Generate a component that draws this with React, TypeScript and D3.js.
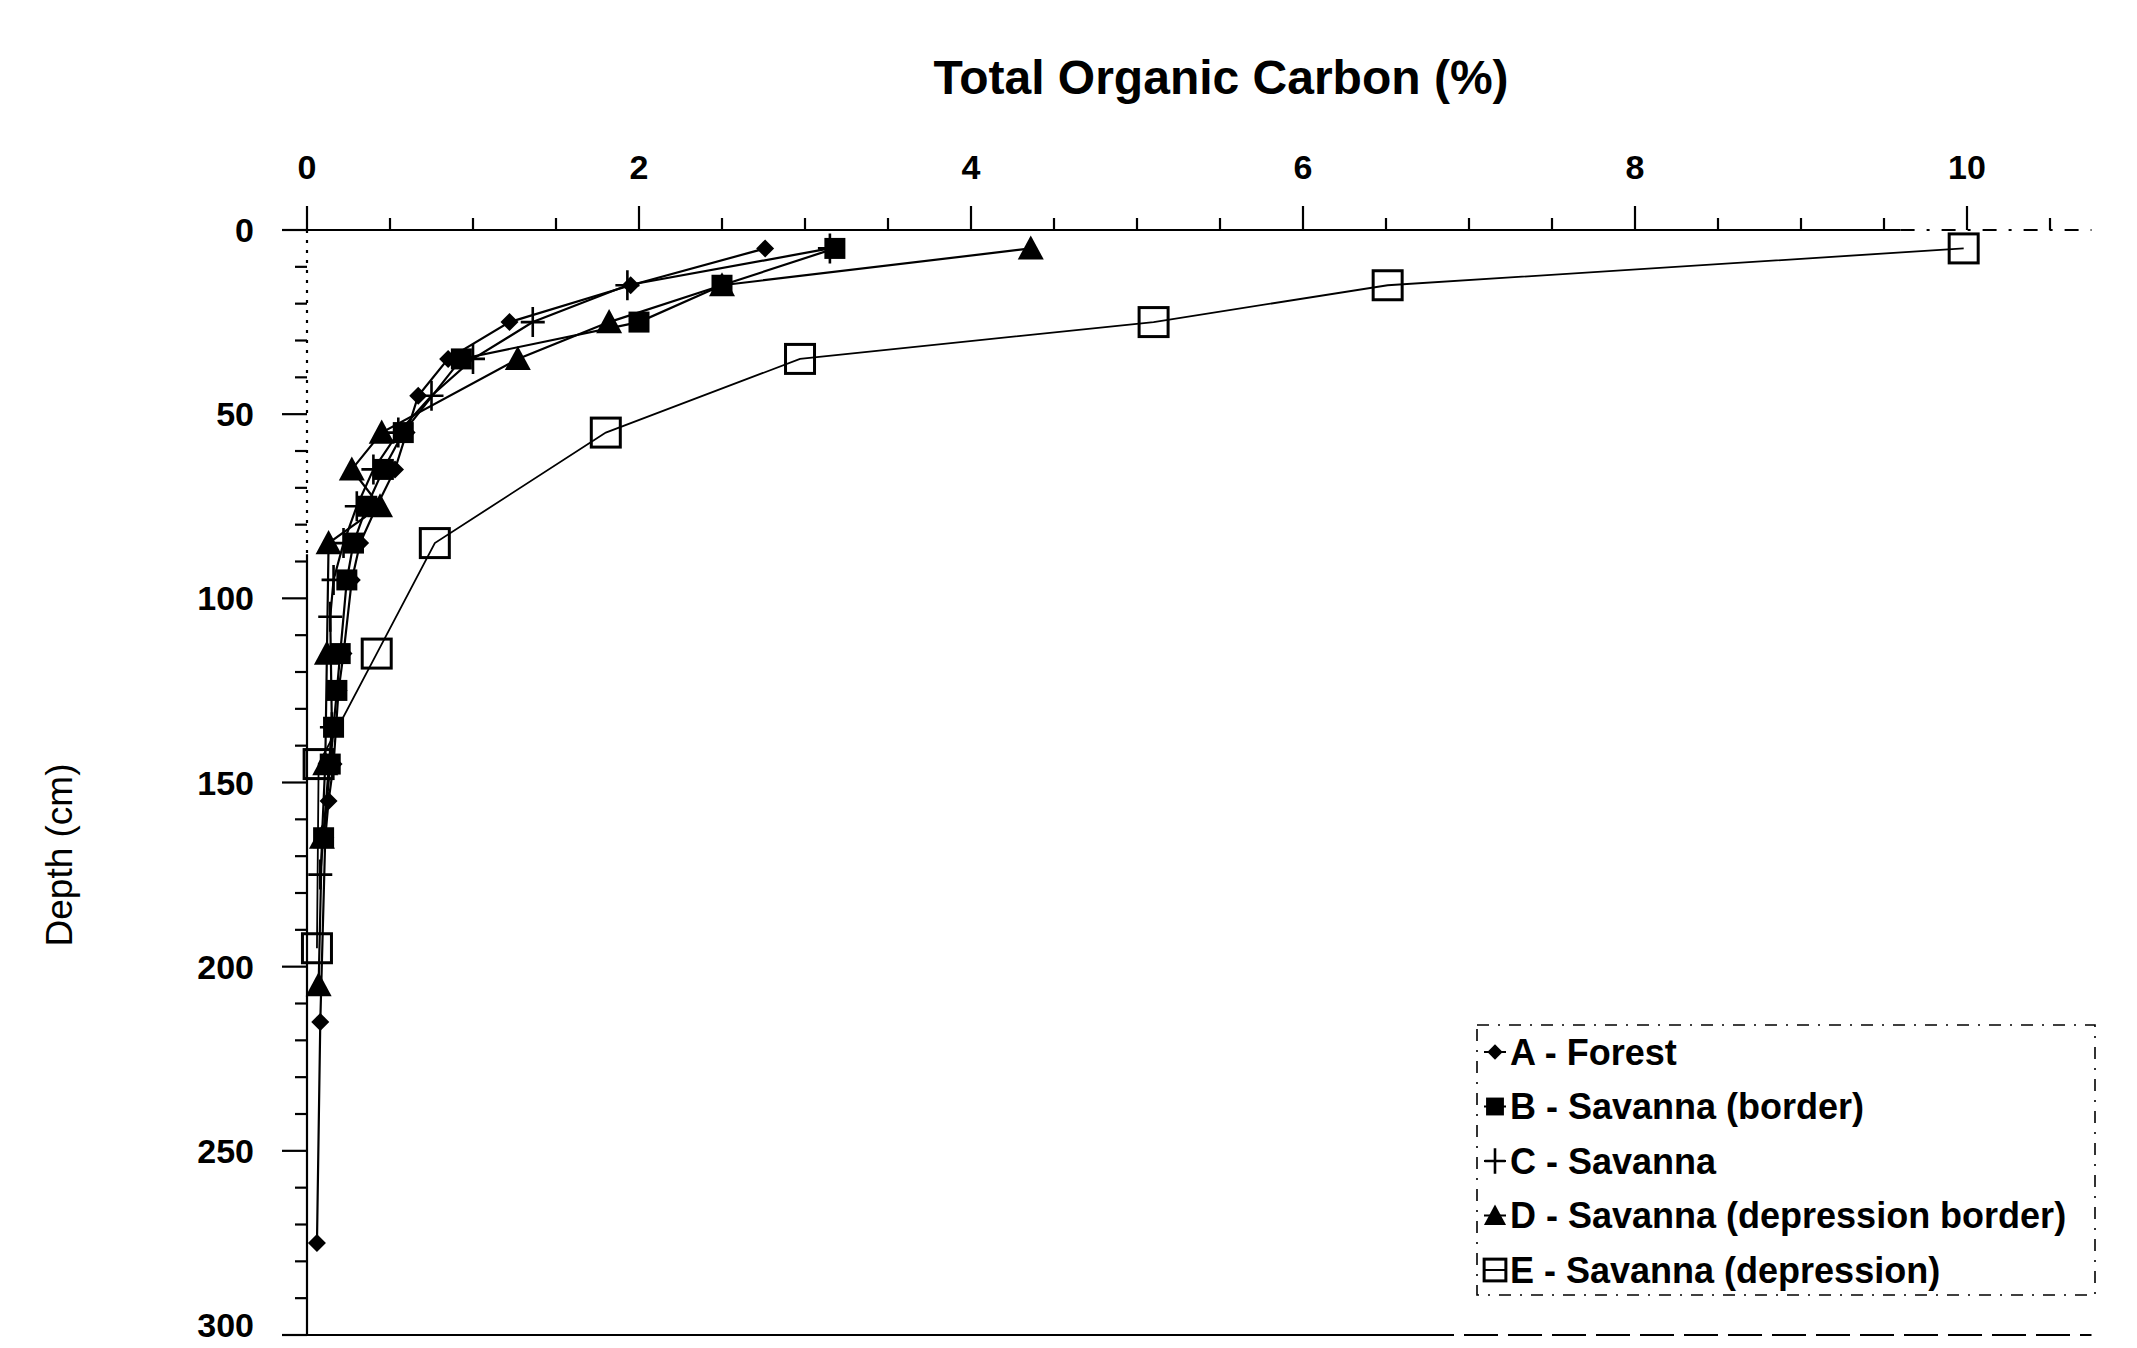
import * as d3 from "d3";

// depth (cm) of each sample, and total organic carbon (%) per profile
const depthsA = [5, 15, 25, 35, 45, 55, 65, 75, 85, 95, 115, 125, 145, 155, 165, 215, 275];
const forest = [2.76, 1.95, 1.22, 0.85, 0.67, 0.6, 0.53, 0.42, 0.32, 0.27, 0.22, 0.19, 0.16, 0.13, 0.11, 0.08, 0.06];

const depthsB = [5, 15, 25, 35, 55, 65, 75, 85, 95, 115, 125, 135, 145, 165];
const savannaBorder = [3.18, 2.5, 2.0, 0.93, 0.58, 0.46, 0.36, 0.28, 0.24, 0.2, 0.18, 0.16, 0.14, 0.1];

const depthsC = [5, 15, 25, 35, 45, 55, 65, 75, 85, 95, 105, 135, 175];
const savanna = [3.15, 1.93, 1.36, 1.0, 0.75, 0.55, 0.4, 0.3, 0.22, 0.16, 0.14, 0.15, 0.08];

const depthsD = [5, 15, 25, 35, 55, 65, 75, 85, 115, 145, 165, 205];
const depressionBorder = [4.36, 2.5, 1.82, 1.27, 0.45, 0.27, 0.44, 0.13, 0.12, 0.11, 0.09, 0.07];

const depthsE = [5, 15, 25, 35, 55, 85, 115, 145, 195];
const depression = [9.98, 6.51, 5.1, 2.97, 1.8, 0.77, 0.42, 0.07, 0.06];

const seriesNames = [
  "A - Forest",
  "B - Savanna (border)",
  "C - Savanna",
  "D - Savanna (depression border)",
  "E - Savanna (depression)",
];
const markerKinds = ["diamond", "square", "plus", "triangle", "openSquare"];

const xTickLabels = [0, 2, 4, 6, 8, 10];
const yTickLabels = [0, 50, 100, 150, 200, 250, 300];

const FONT = "'Liberation Sans', Arial, Helvetica, sans-serif";

type Pt = { v: number; d: number };

function zip(depths: number[], vals: number[]): Pt[] {
  return depths.map((d, i) => ({ d, v: vals[i] }));
}

const series: Pt[][] = [
  zip(depthsA, forest),
  zip(depthsB, savannaBorder),
  zip(depthsC, savanna),
  zip(depthsD, depressionBorder),
  zip(depthsE, depression),
];

function Marker({ kind, x, y, k = 1 }: { kind: string; x: number; y: number; k?: number }) {
  if (kind === "diamond") {
    const r = 9 * k;
    return <path d={`M${x},${y - r}L${x + r},${y}L${x},${y + r}L${x - r},${y}Z`} fill="#000" />;
  }
  if (kind === "square") {
    const s = 21 * k;
    return <rect x={x - s / 2} y={y - s / 2} width={s} height={s} fill="#000" />;
  }
  if (kind === "plus") {
    const w = 12 * k;
    const h = 15 * k;
    return (
      <path d={`M${x - w},${y}H${x + w}M${x},${y - h}V${y + h}`} stroke="#000" strokeWidth={2.6} fill="none" />
    );
  }
  if (kind === "triangle") {
    const s = 13 * k;
    return <path d={`M${x},${y - s}L${x + s},${y + s * 0.85}L${x - s},${y + s * 0.85}Z`} fill="#000" />;
  }
  const s = 29 * k;
  return (
    <rect x={x - s / 2} y={y - s / 2} width={s} height={s} fill="none" stroke="#000" strokeWidth={3} />
  );
}

export default function App() {
  const W = 2137;
  const H = 1348;
  const x = d3.scaleLinear().domain([0, 10]).range([307, 1967]);
  const y = d3.scaleLinear().domain([0, 300]).range([230, 1335]);

  const line = d3
    .line<Pt>()
    .x((p) => x(p.v))
    .y((p) => y(p.d));

  const xMinor = d3.range(0, 10.51, 0.5);
  const yMinor = d3.range(0, 301, 10);

  const left = x(-0.15);
  const axisSolidEnd = x(9.6);
  const axisEnd = x(10.75);

  const legX = 1477;
  const legY = 1025;
  const legW = 618;
  const legH = 270;
  const rowY = (i: number) => legY + 27 + i * 54.5;

  return (
    <svg
      width={W}
      height={H}
      style={{ position: "absolute", left: 0, top: 0, background: "#fff" }}
      fontFamily={FONT}
    >
      <rect width={W} height={H} fill="#fff" />

      {/* title */}
      <text x={1221} y={94} textAnchor="middle" fontSize={48} fontWeight="bold" fill="#000">
        Total Organic Carbon (%)
      </text>
      <text
        transform={`translate(62,855) rotate(-90)`}
        textAnchor="middle"
        dominantBaseline="middle"
        fontSize={37}
        fill="#000"
      >
        Depth (cm)
      </text>

      {/* x axis on top */}
      <g stroke="#000" strokeWidth={2.2}>
        <line x1={left} x2={axisSolidEnd} y1={y(0)} y2={y(0)} />
        <line x1={axisSolidEnd} x2={axisEnd} y1={y(0)} y2={y(0)} strokeDasharray="14 12 3 12" />
        {xMinor.map((t) => (
          <line key={"xt" + t} x1={x(t)} x2={x(t)} y1={y(0)} y2={y(0) - (t % 2 === 0 ? 24 : 12)} />
        ))}
      </g>
      {xTickLabels.map((t) => (
        <text key={"xl" + t} x={x(t)} y={179} textAnchor="middle" fontSize={34} fontWeight="bold" fill="#000">
          {t}
        </text>
      ))}

      {/* y axis */}
      <g stroke="#000" strokeWidth={2.2}>
        <line x1={x(0)} x2={x(0)} y1={y(0)} y2={y(88)} strokeDasharray="3 7" />
        <line x1={x(0)} x2={x(0)} y1={y(88)} y2={y(300)} />
        {yMinor.map((t) => (
          <line key={"yt" + t} x1={x(0)} x2={x(0) - (t % 50 === 0 ? 25 : 12)} y1={y(t)} y2={y(t)} />
        ))}
        <line x1={left} x2={1420} y1={y(300)} y2={y(300)} />
        <line x1={1420} x2={axisEnd} y1={y(300)} y2={y(300)} strokeDasharray="34 10" />
      </g>
      {yTickLabels.map((t) => (
        <text
          key={"yl" + t}
          x={254}
          y={t === 300 ? y(t) - 10 : y(t)}
          textAnchor="end"
          dominantBaseline="central"
          fontSize={34}
          fontWeight="bold"
          fill="#000"
        >
          {t}
        </text>
      ))}

      {/* profile lines */}
      {series.map((s, i) => (
        <path key={"ln" + i} d={line(s) || ""} fill="none" stroke="#000" strokeWidth={i === 4 ? 1.8 : 2.2} />
      ))}
      {series.map((s, i) =>
        s.map((p, j) => <Marker key={`m${i}-${j}`} kind={markerKinds[i]} x={x(p.v)} y={y(p.d)} />)
      )}

      {/* legend */}
      <rect
        x={legX}
        y={legY}
        width={legW}
        height={legH}
        fill="#fff"
        stroke="#000"
        strokeWidth={1.6}
        strokeDasharray="12 9 2 9"
      />
      {seriesNames.map((name, i) => (
        <g key={"lg" + i}>
          <line x1={1484} x2={1506} y1={rowY(i)} y2={rowY(i)} stroke="#000" strokeWidth={2} />
          <Marker kind={markerKinds[i]} x={1495} y={rowY(i)} k={i === 4 ? 0.75 : 0.85} />
          <text x={1510} y={rowY(i)} dominantBaseline="central" fontSize={36} fontWeight="bold" fill="#000">
            {name}
          </text>
        </g>
      ))}
    </svg>
  );
}
